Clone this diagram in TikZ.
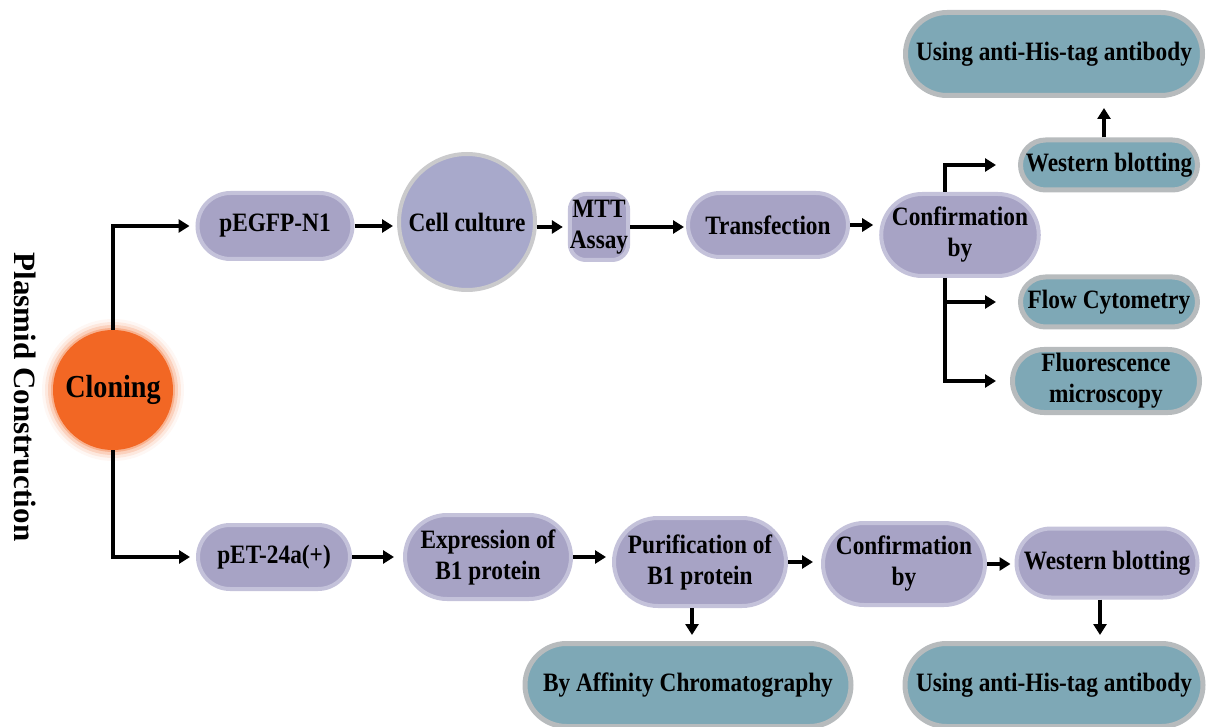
\documentclass[tikz,border=0pt]{standalone}
\usepackage{fontspec}
\setmainfont{Liberation Serif}
\newfontfamily\narrowfont[FakeStretch=0.88]{Liberation Serif}
\usetikzlibrary{shapes.misc,arrows.meta}
\definecolor{pfill}{HTML}{A7A3C5}
\definecolor{pborder}{HTML}{C4C2DA}
\definecolor{tfill}{HTML}{7EA8B6}
\definecolor{tborder}{HTML}{B7BBBD}
\definecolor{cfill}{HTML}{A8A9CB}
\definecolor{cborder}{HTML}{CACACC}
\definecolor{orng}{HTML}{F26724}
\begin{document}
\begin{tikzpicture}[x=1pt,y=-1pt,
  txt/.style={font=\narrowfont\fontsize{26.5}{31}\selectfont\bfseries, align=center, inner sep=0pt},
  pbox/.style={txt, rounded rectangle, fill=pfill, draw=pborder, line width=4pt},
  tbox/.style={txt, rounded rectangle, fill=tfill, draw=tborder, line width=5pt},
  arr/.style={line width=3.5pt, -{Triangle[length=11pt,width=13pt]}},
]
\useasboundingbox (0,0) rectangle (1208,727);

% Cloning with glow
\foreach \r/\o in {71/0.05,68/0.1,65/0.18,62/0.3}{
  \fill[orng, opacity=\o] (113,390) circle (\r);
}
\node[circle, fill=orng, minimum size=120, inner sep=0pt,
      font=\narrowfont\fontsize{32}{36}\selectfont\bfseries] (clon) at (113,390) {Cloning};

\node[rotate=-90, font=\fontsize{31}{36}\selectfont\bfseries] (plasmid) at (25,397) {Plasmid Construction};

% top row
\node[pbox, minimum width=155, minimum height=66] (pegfp) at (275,226) {pEGFP-N1};
\node[txt, circle, fill=cfill, draw=cborder, line width=4pt, minimum size=136] (cell) at (467,222) {Cell culture};
\node[txt, rectangle, rounded corners=16pt, fill=pfill, draw=pborder, line width=4pt,
      minimum width=58, minimum height=66] (mtt) at (599,227) {MTT\\Assay};
\node[pbox, minimum width=160, minimum height=64] (transf) at (768,225) {Transfection};
\node[pbox, minimum width=156, minimum height=82] (ctop) at (960,235) {Confirmation\\by};

\node[tbox, minimum width=177, minimum height=50] (wtop) at (1109,165) {Western blotting};
\node[tbox, minimum width=297, minimum height=83] (utop) at (1054,54) {Using anti-His-tag antibody};
\node[tbox, minimum width=177, minimum height=50] (flow) at (1109,302) {Flow Cytometry};
\node[tbox, minimum width=187, minimum height=63] (fluor) at (1106,381) {Fluorescence\\microscopy};

% bottom row
\node[pbox, minimum width=152, minimum height=64] (pet) at (274,557) {pET-24a(+)};
\node[pbox, minimum width=166, minimum height=84] (expr) at (488,557) {Expression of\\B1 protein};
\node[pbox, minimum width=172, minimum height=88] (purif) at (700,562) {Purification of\\B1 protein};
\node[pbox, minimum width=162, minimum height=82] (cbot) at (904,564) {Confirmation\\by};
\node[pbox, minimum width=181, minimum height=69] (wbot) at (1107,563) {Western blotting};
\node[tbox, minimum width=298, minimum height=83] (ubot) at (1054,685) {Using anti-His-tag antibody};
\node[tbox, minimum width=326, minimum height=83] (aff) at (688,685) {By Affinity Chromatography};

% connectors
\draw[arr, shorten >=6pt] (clon.north) |- (pegfp.west);
\draw[arr, shorten >=6pt] (clon.south) |- (pet.west);

\draw[arr, shorten >=4pt] (pegfp.east) -- (pegfp.east -| cell.west);
\draw[arr, shorten >=5pt] (cell.east |- mtt.west) -- (mtt.west);
\draw[arr, shorten >=2pt] (mtt.east) -- (mtt.east -| transf.west);
\draw[arr, shorten >=6pt] (transf.east) -- (transf.east -| ctop.west);

\coordinate (bx) at ([xshift=-15pt]ctop.north);
\coordinate (by) at ([xshift=-15pt]ctop.south);
\draw[arr, shorten >=22pt] (bx) |- (wtop.west);
\draw[arr, shorten >=22pt] (by) |- (flow.west);
\draw[arr, shorten >=14pt] (by) |- (fluor.west);
\draw[arr, shorten >=10pt] ([xshift=-5pt]wtop.north) -- ([xshift=-5pt]wtop.north |- utop.south);

\draw[arr, shorten >=9pt] (pet.east) -- (pet.east -| expr.west);
\draw[arr, shorten >=6pt] (expr.east) -- (expr.east -| purif.west);
\draw[arr, shorten >=8pt] (purif.east) -- (purif.east -| cbot.west);
\draw[arr, shorten >=4pt] (cbot.east) -- (cbot.east -| wbot.west);
\draw[arr, shorten >=6pt] ([xshift=-8pt]purif.south) -- ([xshift=-8pt]purif.south |- aff.north);
\draw[arr, shorten >=6pt] ([xshift=-7pt]wbot.south) -- ([xshift=-7pt]wbot.south |- ubot.north);
\end{tikzpicture}
\end{document}
